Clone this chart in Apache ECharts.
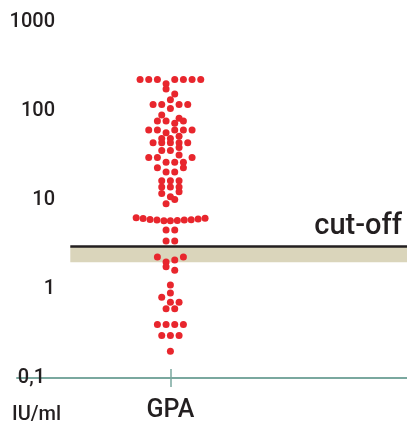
<!DOCTYPE html>
<html>
<head>
<meta charset="utf-8">
<script src="https://cdn.jsdelivr.net/npm/echarts@6/dist/echarts.min.js"></script>
<style>
  html, body { margin: 0; padding: 0; background: #fff; }
  #chart { width: 407px; height: 430px; }
</style>
</head>
<body>
<div id="chart"></div>
<script>
// titres in IU/ml, one entry per patient, with its sideways slot in the swarm
const category = 'GPA';
const gpaValues = [
  226, 226, 226, 226, 226, 226, 226,
  203, 177, 155, 134,
  118, 118, 118, 118,
  107, 90, 83,
  77, 77, 77, 73,
  61, 61, 61, 61, 61,
  57, 52, 49, 49,
  44, 44, 44, 44, 44,
  39, 36, 36, 32,
  30, 30, 30,
  26.5, 26.5, 26.5,
  23, 23, 20.6, 20.6,
  16.5, 16.5, 16.5,
  14, 14, 14,
  12.4, 11.8, 10.9, 10.1, 9.1,
  6.3, 6.2, 6.05, 5.95, 5.85, 5.85, 5.9, 5.95, 6.0, 6.1, 6.25,
  4.6, 4.6, 3.46, 3.46,
  2.29, 2.29, 2.12, 2.01, 1.78, 1.62,
  1.11, 0.9, 0.81, 0.71, 0.71,
  0.6, 0.6,
  0.4, 0.4, 0.4, 0.4,
  0.3, 0.3, 0.3,
  0.2
];
const swarmOffsets = [
  -7, -5, -3, 1, 3, 5, 7,
  -1, -1, 1, 0,
  -4, -2, 2, 4,
  0, -2, 2,
  -3, -1, 3, 1,
  -5, -3, 1, 3, 5,
  -1, 2, -2, 0,
  -4, -2, 0, 2, 4,
  2, -2, 0, 2,
  -5, -3, 5,
  -1, 1, 3,
  -3, 3, -1, 1,
  -2, 0, 2,
  -2, 0, 2,
  2, -2, 0, 1, -1,
  -7.9, -6.3, -4.7, -3.1, -1.5, 0, 1.6, 3.2, 4.8, 6.4, 8.0,
  -1, 1, -1, 1,
  -3, 3, 1, -1, -1, 1,
  0, 0, -2, 0, 2,
  -1, 1,
  -3, -1, 1, 3,
  -2, 0, 2,
  0
];
const cutoff = 3;
const greyZone = [2, 3];
const yMin = 0.1;
const yMax = 1000;

const points = gpaValues.map((v, i) => [swarmOffsets[i], v]);

const font = 'Roboto, "Liberation Sans", sans-serif';
const weight = 500;
const ink = '#231f20';
const teal = '#7aa89f';
const xMin = -35.4, xMax = 54.6, lineStart = -23.1;

const chart = echarts.init(document.getElementById('chart'));
chart.setOption({
  animation: false,
  grid: { left: 17, right: 0, top: 22, bottom: 52 },
  xAxis: [
    {
      type: 'value', min: xMin, max: xMax,
      splitLine: { show: false },
      axisLine: { show: true, lineStyle: { color: teal, width: 2 } },
      axisTick: { show: true, customValues: [0], length: 9, lineStyle: { color: teal, width: 1.5 } },
      axisLabel: {
        customValues: [0], formatter: () => category,
        fontFamily: font, fontWeight: weight, fontSize: 25, color: ink, margin: 20
      }
    },
    {
      type: 'value', min: xMin, max: xMax, position: 'bottom',
      splitLine: { show: false },
      axisLine: { show: false },
      axisTick: { show: true, inside: true, customValues: [0], length: 9, lineStyle: { color: teal, width: 1.5 } },
      axisLabel: { show: false }
    }
  ],
  yAxis: {
    type: 'log', logBase: 10, min: yMin, max: yMax,
    offset: -40,
    axisLine: { show: false },
    axisTick: { show: false },
    splitLine: { show: false },
    axisLabel: {
      margin: 2, fontFamily: font, fontWeight: weight, fontSize: 20, color: ink,
      formatter: v => v < 0.5 ? '{a|0,1}' : String(Math.round(v)),
      rich: { a: { fontFamily: font, fontWeight: weight, fontSize: 20, color: ink, padding: [0, 10, 0, 0] } }
    }
  },
  graphic: [
    { type: 'text', left: 12, top: 405, style: { text: 'IU/ml', fontFamily: font, fontWeight: weight, fontSize: 20, fill: ink } }
  ],
  series: [
    {
      type: 'scatter',
      data: points,
      symbolSize: 7,
      itemStyle: { color: '#e8262d', opacity: 1 },
      z: 3,
      markArea: {
        silent: true,
        itemStyle: { color: '#dad5bb', opacity: 1 },
        data: [[{ coord: [lineStart, greyZone[0]] }, { coord: [xMax, greyZone[1]] }]]
      },
      markLine: {
        silent: true,
        symbol: 'none',
        lineStyle: { color: ink, width: 2.5, type: 'solid' },
        label: {
          show: true, position: 'insideEndTop', formatter: 'cut-off',
          fontFamily: font, fontWeight: weight, fontSize: 29, color: ink, distance: 5
        },
        data: [[{ coord: [lineStart, cutoff] }, { coord: [xMax, cutoff] }]]
      }
    }
  ]
});
</script>
</body>
</html>
